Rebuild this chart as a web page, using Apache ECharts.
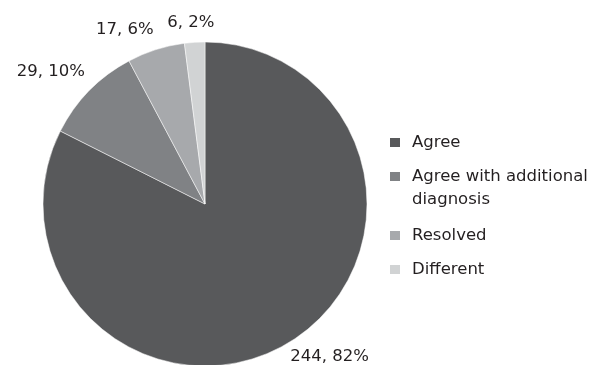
<!DOCTYPE html>
<html>
<head>
<meta charset="utf-8">
<script src="https://cdn.jsdelivr.net/npm/echarts@6/dist/echarts.min.js"></script>
<style>
html,body{margin:0;padding:0;background:#fff;}
#chart{width:591px;height:365px;}
</style>
</head>
<body>
<div id="chart"></div>
<script>
const categories = ['Agree', 'Agree with additional diagnosis', 'Resolved', 'Different'];
const counts = [244, 29, 17, 6];

// styling
const colors = ['#58595b', '#808285', '#a7a9ac', '#d1d3d4'];
const labelLineLen = [17.6, 27, 21, 19.4];      // radial offset of each outside label
const labelLineLen2 = [-9, -15, -4, -21];      // horizontal nudge of each outside label

const FONT = 'DejaVu Sans';
const FS = 16.5;
const TEXT = '#231f20';

const chart = echarts.init(document.getElementById('chart'), null, {renderer: 'canvas'});

const seriesData = categories.map((name, i) => ({
  name: name,
  value: counts[i],
  itemStyle: {color: colors[i]},
  labelLine: {show: false, length: labelLineLen[i], length2: labelLineLen2[i]}
}));

const richT = {t: {fontFamily: FONT, fontSize: FS, color: TEXT, lineHeight: 23}};
function legendText(pad) {
  return {fontFamily: FONT, fontSize: FS, color: TEXT, lineHeight: 23, padding: pad, rich: richT};
}
function legendLabel(n) {
  if (n === 'Agree with additional diagnosis') return '{t|Agree with additional}\n{t|diagnosis}';
  return '{t|' + n + '}';
}
function makeLegend(names, top) {
  return {
    orient: 'vertical',
    left: 388,
    top: top,
    padding: 0,
    itemGap: 11,
    itemWidth: 12,
    itemHeight: 11,
    icon: 'rect',
    selectedMode: false,
    data: names.map(n => n === 'Agree with additional diagnosis'
      ? {name: n, textStyle: legendText([0, 0, -23, 6])}
      : {name: n}),
    formatter: legendLabel,
    textStyle: legendText([0, 0, 0, 6])
  };
}

chart.setOption({
  animation: false,
  backgroundColor: '#ffffff',
  legend: [
    makeLegend(categories.slice(0, 2), 131),
    makeLegend(categories.slice(2), 224)
  ],
  series: [{
    type: 'pie',
    center: [205, 204],
    radius: 162,
    startAngle: 90,
    clockwise: true,
    avoidLabelOverlap: false,
    silent: true,
    itemStyle: {borderColor: '#ffffff', borderWidth: 0.5},
    labelLayout: {hideOverlap: false, moveOverlap: false},
    label: {
      show: true,
      position: 'outside',
      fontFamily: FONT,
      fontSize: FS,
      color: TEXT,
      distanceToLabelLine: 0,
      formatter: p => p.value + ', ' + Math.round(p.percent) + '%'
    },
    labelLine: {show: false},
    emphasis: {disabled: true},
    data: seriesData
  }]
});
</script>
</body>
</html>
